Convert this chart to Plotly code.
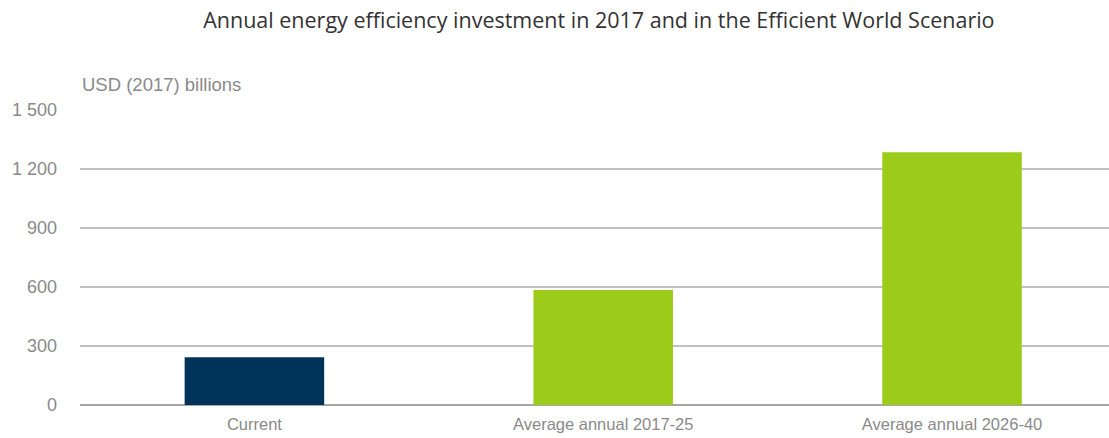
import plotly.graph_objects as go

categories = ["Current", "Average annual 2017-25", "Average annual 2026-40"]
values = [243, 585, 1285]
colors = ["#003359", "#9dcb19", "#9dcb19"]
y_ticks = [0, 300, 600, 900, 1200, 1500]

fig = go.Figure(go.Bar(x=categories, y=values, marker=dict(color=colors, line=dict(width=0)), width=0.4))

fig.update_layout(
    width=1109, height=438,
    margin=dict(l=80, r=0, t=110, b=33),
    paper_bgcolor="white", plot_bgcolor="white",
    separators=". ",
    showlegend=False,
    title=dict(text="Annual energy efficiency investment in 2017 and in the Efficient World Scenario",
               x=0.54, xanchor="center", y=0.954, yanchor="middle",
               font=dict(family="Open Sans", size=21.5, color="#333333")),
    font=dict(family="Liberation Sans, Arial", color="#8a8a8a", size=16),
    annotations=[dict(text="USD (2017) billions", xref="paper", yref="paper", x=0, y=1.088,
                      xanchor="left", yanchor="middle", showarrow=False,
                      font=dict(family="Liberation Sans, Arial", size=18.5, color="#8a8a8a"))],
)
fig.update_xaxes(range=[-0.5, 2.45], showgrid=False, showline=False, ticks="",
                 ticklabelstandoff=7, tickfont=dict(size=16.5, color="#8a8a8a"))
fig.update_yaxes(range=[0, 1500], tickvals=y_ticks, tickformat=",d", showgrid=True,
                 gridcolor="#bfbfbf", gridwidth=1.5, zeroline=True, zerolinecolor="#a6a6a6",
                 zerolinewidth=1.5, showline=False, ticklabelstandoff=22,
                 tickfont=dict(size=18, color="#8a8a8a"))

fig.write_html("out.html")
